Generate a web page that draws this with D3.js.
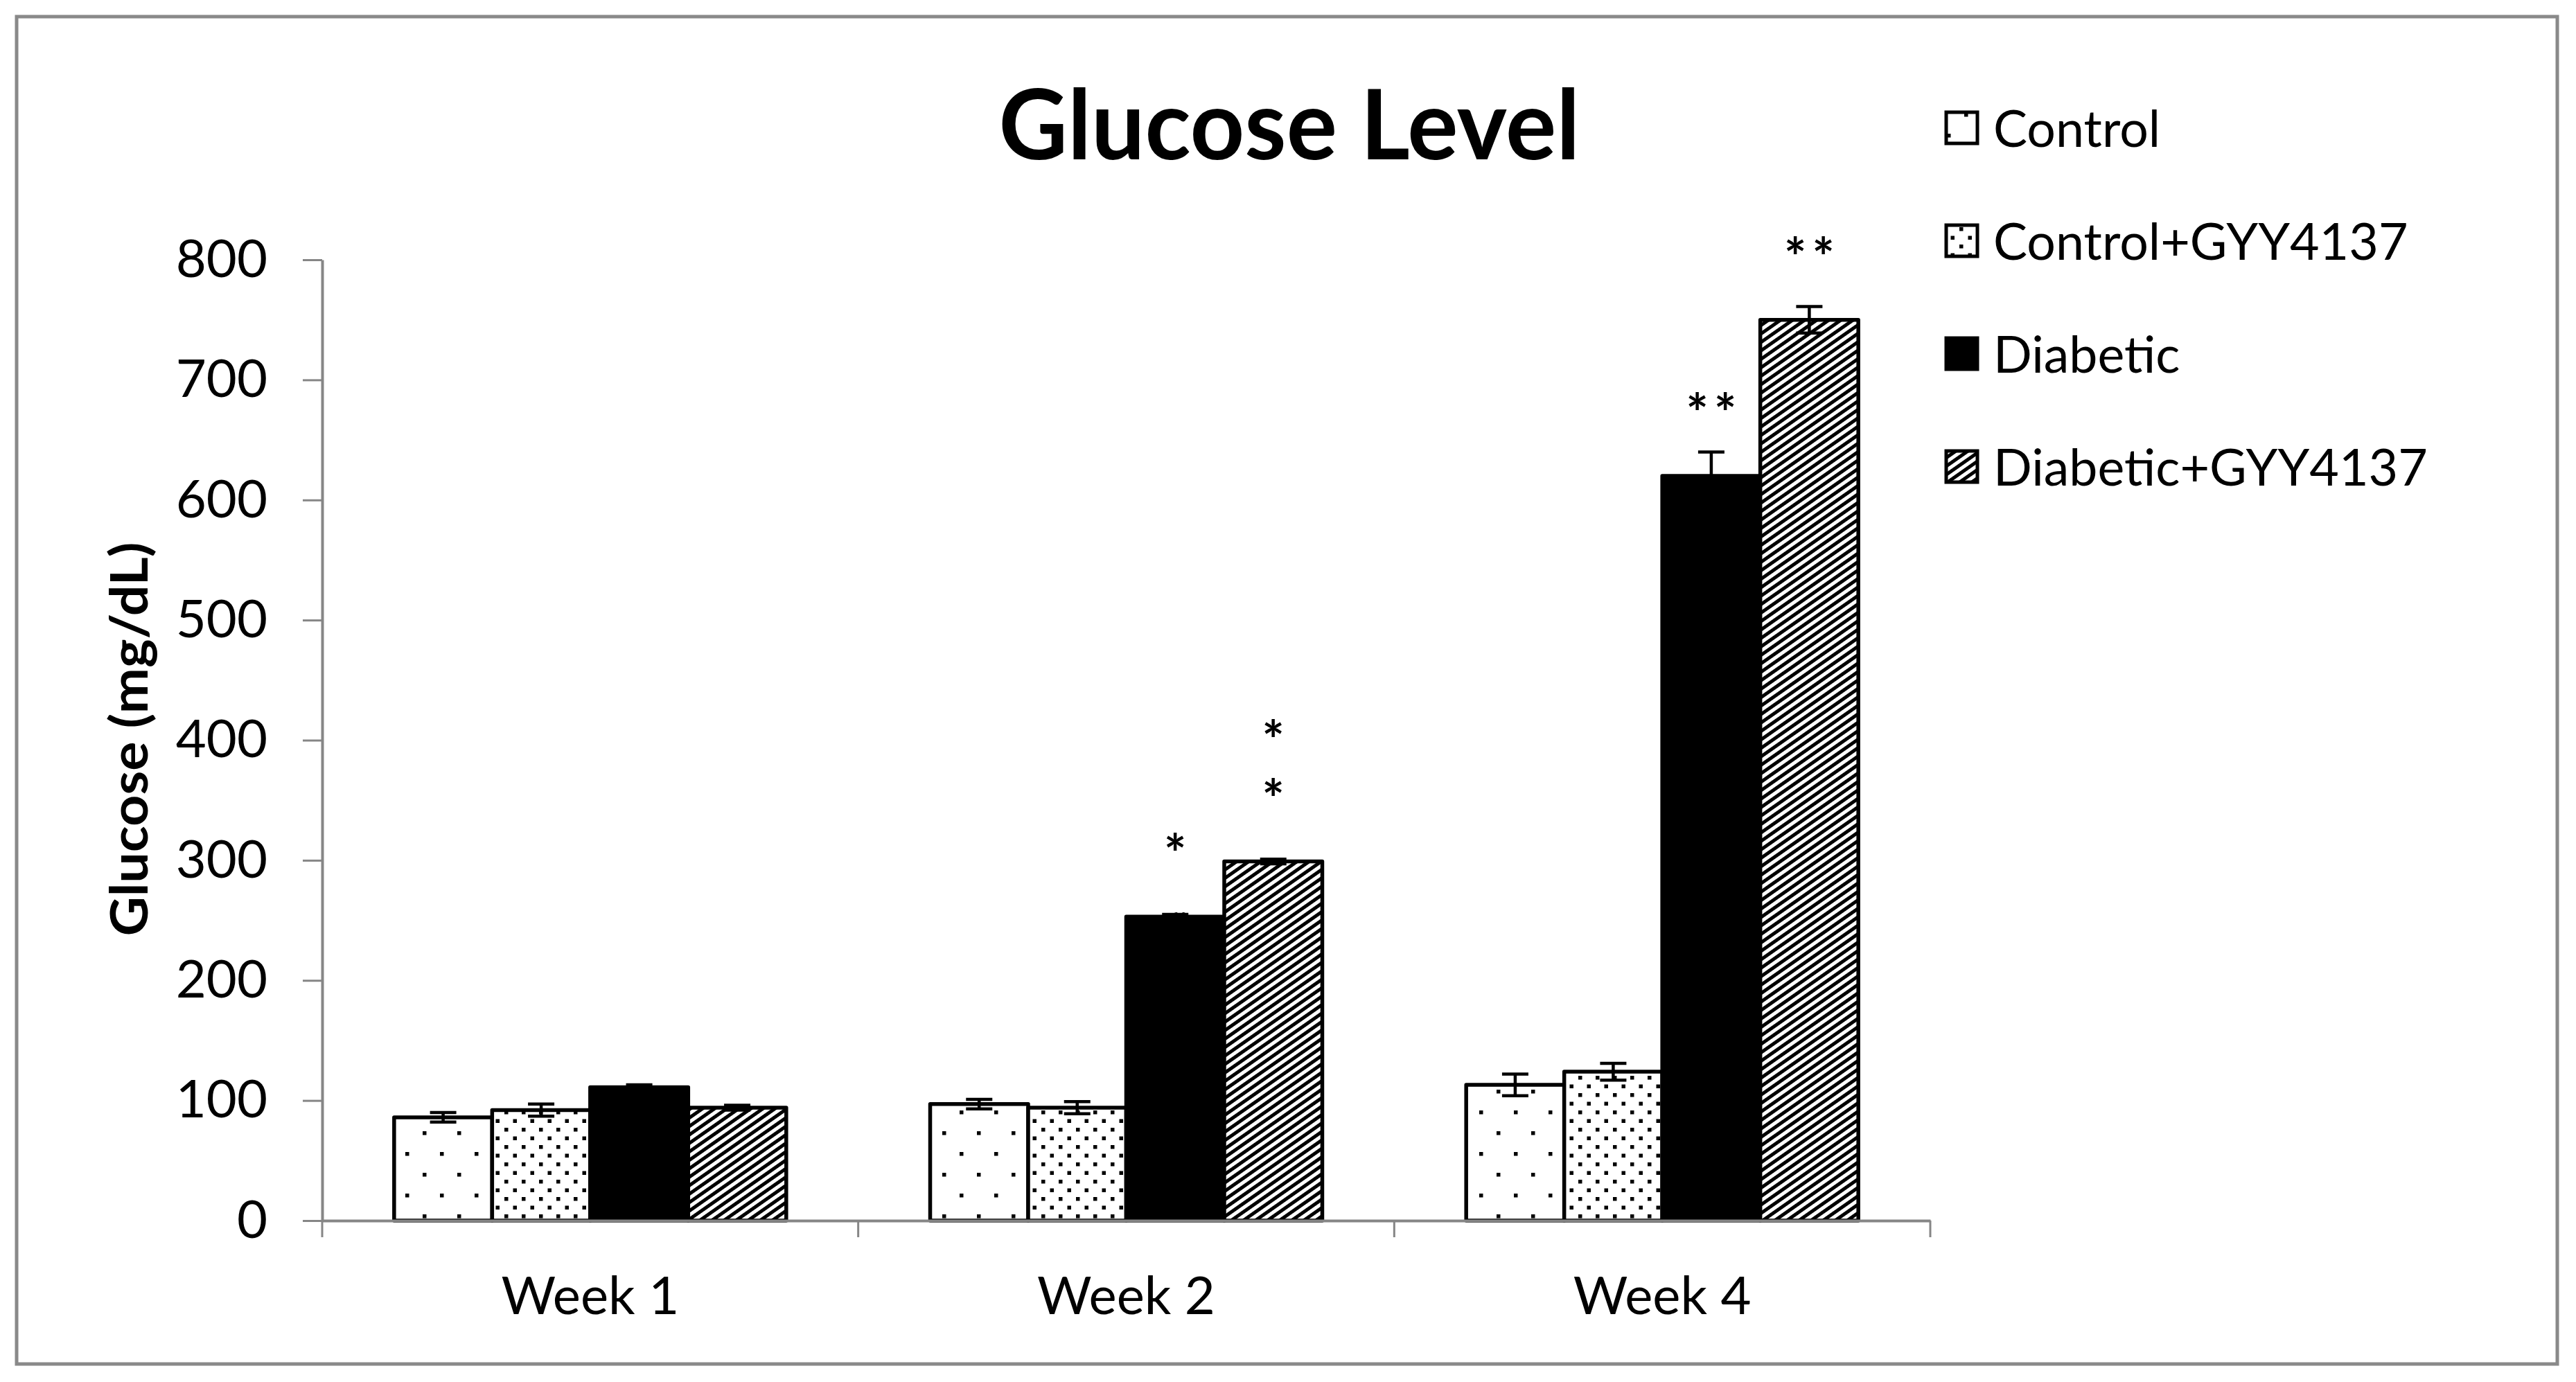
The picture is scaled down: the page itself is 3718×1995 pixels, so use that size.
<!DOCTYPE html>
<html>
<head>
<meta charset="utf-8">
<script src="https://cdn.jsdelivr.net/npm/d3@7"></script>
<style>
  body { margin: 0; background: #fff; }
  text { font-family: Lato, "Open Sans", sans-serif; fill: #000; }
</style>
</head>
<body>
<svg id="chart" width="3718" height="1995"></svg>
<script>
const weeks = ["Week 1", "Week 2", "Week 4"];
const groups = ["Control", "Control+GYY4137", "Diabetic", "Diabetic+GYY4137"];

// glucose mean per week, mg/dL
const controlMean = [86, 97, 113];
const controlGyyMean = [92, 94, 124];
const diabeticMean = [111, 253, 620];
const diabeticGyyMean = [94, 299, 750];

// error bars (+/-)
const controlErr = [4, 4, 9];
const controlGyyErr = [5, 5, 7];
const diabeticErr = [2, 2, 20];
const diabeticGyyErr = [2, 2, 11];

const yTicks = [0, 100, 200, 300, 400, 500, 600, 700, 800];

// significance marks above bars (lines listed top to bottom)
const starMarks = [
  { week: "Week 2", group: "Diabetic", lines: ["*"] },
  { week: "Week 2", group: "Diabetic+GYY4137", lines: ["*", "*"] },
  { week: "Week 4", group: "Diabetic", lines: ["**"] },
  { week: "Week 4", group: "Diabetic+GYY4137", lines: ["**"] },
];
const hashMarks = [{ week: "Week 2", group: "Diabetic", text: "#" }];

const meanByGroup = [controlMean, controlGyyMean, diabeticMean, diabeticGyyMean];
const errByGroup = [controlErr, controlGyyErr, diabeticErr, diabeticGyyErr];
const data = [];
weeks.forEach((w, i) => {
  groups.forEach((g, j) => {
    data.push({ week: w, group: g, value: meanByGroup[j][i], err: errByGroup[j][i] });
  });
});
const lookup = (w, g) => data.find((d) => d.week === w && d.group === g);

const margin = { top: 375, right: 932, bottom: 233, left: 465 };
const width = 3718;
const height = 1995;
const axisGrey = "#868686";

const svg = d3.select("#chart");

// outer frame
svg.append("rect")
  .attr("x", 24).attr("y", 24)
  .attr("width", 3667).attr("height", 1945)
  .attr("fill", "#fff")
  .attr("stroke", "#898989")
  .attr("stroke-width", 5);

// fill patterns
const defs = svg.append("defs");
const sparse = defs.append("pattern")
  .attr("id", "pat-sparse").attr("patternUnits", "userSpaceOnUse")
  .attr("width", 50).attr("height", 60);
sparse.append("rect").attr("width", 50).attr("height", 60).attr("fill", "#fff");
sparse.append("rect").attr("x", 10).attr("y", 13).attr("width", 5.5).attr("height", 5.5);
sparse.append("rect").attr("x", 35).attr("y", 43).attr("width", 5.5).attr("height", 5.5);

const dense = defs.append("pattern")
  .attr("id", "pat-dense").attr("patternUnits", "userSpaceOnUse")
  .attr("width", 25).attr("height", 25);
dense.append("rect").attr("width", 25).attr("height", 25).attr("fill", "#fff");
dense.append("rect").attr("x", 3).attr("y", 3).attr("width", 5.5).attr("height", 5.5);
dense.append("rect").attr("x", 15.5).attr("y", 15.5).attr("width", 5.5).attr("height", 5.5);

const stripes = defs.append("pattern")
  .attr("id", "pat-stripes").attr("patternUnits", "userSpaceOnUse")
  .attr("width", 10).attr("height", 10)
  .attr("patternTransform", "rotate(55)");
stripes.append("rect").attr("width", 10).attr("height", 10).attr("fill", "#fff");
stripes.append("rect").attr("width", 5).attr("height", 10).attr("fill", "#000");

const fills = {
  "Control": "url(#pat-sparse)",
  "Control+GYY4137": "url(#pat-dense)",
  "Diabetic": "#000",
  "Diabetic+GYY4137": "url(#pat-stripes)",
};

// scales
const x0 = d3.scaleBand()
  .domain(weeks)
  .range([margin.left, width - margin.right])
  .paddingInner(0).paddingOuter(0);

const x1 = d3.scaleBand()
  .domain(groups)
  .range([0, x0.bandwidth()])
  .paddingInner(0).paddingOuter(0.734);

const y = d3.scaleLinear()
  .domain([0, 800])
  .range([height - margin.bottom, margin.top]);

// Y axis
const yAxis = svg.append("g")
  .attr("transform", `translate(${margin.left},0)`)
  .call(d3.axisLeft(y).tickValues(yTicks).tickSize(28).tickSizeOuter(0).tickPadding(51));
yAxis.select(".domain").attr("stroke", axisGrey).attr("stroke-width", 4);
yAxis.selectAll(".tick line").attr("stroke", axisGrey).attr("stroke-width", 3);
yAxis.selectAll(".tick text")
  .attr("font-family", "Lato, sans-serif")
  .attr("font-size", 76)
  .attr("fill", "#000");

// bars
svg.append("g")
  .selectAll("rect")
  .data(data)
  .join("rect")
  .attr("x", (d) => x0(d.week) + x1(d.group))
  .attr("y", (d) => y(d.value))
  .attr("width", x1.bandwidth())
  .attr("height", (d) => y(0) - y(d.value))
  .attr("fill", (d) => fills[d.group])
  .attr("stroke", "#000")
  .attr("stroke-width", 5.5)
  .attr("stroke-linejoin", "round");

// error bars
const capHalf = 19;
const errG = svg.append("g").attr("stroke", "#000").attr("stroke-width", 4.5);
data.forEach((d) => {
  const cx = x0(d.week) + x1(d.group) + x1.bandwidth() / 2;
  errG.append("line")
    .attr("x1", cx).attr("x2", cx)
    .attr("y1", y(d.value - d.err)).attr("y2", y(d.value + d.err));
  [d.value - d.err, d.value + d.err].forEach((v) => {
    errG.append("line")
      .attr("x1", cx - capHalf).attr("x2", cx + capHalf)
      .attr("y1", y(v)).attr("y2", y(v));
  });
});

// X axis
const xAxis = svg.append("g")
  .attr("transform", `translate(0,${y(0)})`)
  .call(d3.axisBottom(x0).tickSize(0).tickPadding(81));
xAxis.select(".domain").attr("stroke", axisGrey).attr("stroke-width", 4);
xAxis.selectAll(".tick text")
  .attr("font-family", "Lato, sans-serif")
  .attr("font-size", 76)
  .attr("fill", "#000");

// category boundary ticks
const bounds = weeks.map((w) => x0(w)).concat([x0(weeks[weeks.length - 1]) + x0.bandwidth()]);
svg.append("g")
  .selectAll("line")
  .data(bounds)
  .join("line")
  .attr("x1", (d) => d).attr("x2", (d) => d)
  .attr("y1", y(0)).attr("y2", y(0) + 24)
  .attr("stroke", axisGrey)
  .attr("stroke-width", 3);

// significance stars, one text per mark; stacked lines are tspans
const starFs = 76;
const rowGap = 85;
const stars = svg.append("g")
  .selectAll("text")
  .data(starMarks)
  .join("text")
  .attr("text-anchor", "middle")
  .attr("font-family", "'Liberation Serif', 'Times New Roman', serif")
  .attr("font-weight", "bold")
  .attr("font-size", starFs)
  .attr("letter-spacing", 8);
stars.each(function (d) {
  const b = lookup(d.week, d.group);
  const cx = x0(d.week) + x1(d.group) + x1.bandwidth() / 2;
  const bottomBase = y(b.value) - 100 + 37;
  const topBase = bottomBase - (d.lines.length - 1) * rowGap;
  d3.select(this)
    .selectAll("tspan")
    .data(d.lines)
    .join("tspan")
    .attr("x", cx + 4)
    .attr("y", (l, i) => topBase + i * rowGap)
    .text((l) => l);
});

svg.append("g")
  .selectAll("text")
  .data(hashMarks)
  .join("text")
  .attr("x", (d) => x0(d.week) + x1(d.group) + x1.bandwidth() / 2)
  .attr("y", (d) => y(lookup(d.week, d.group).value) + 36)
  .attr("text-anchor", "middle")
  .attr("font-style", "italic")
  .attr("font-size", 58)
  .text((d) => d.text);

// Title
svg.append("text")
  .attr("x", 1861)
  .attr("y", 230)
  .attr("text-anchor", "middle")
  .attr("font-weight", "bold")
  .attr("font-size", 140)
  .attr("textLength", 839)
  .attr("lengthAdjust", "spacingAndGlyphs")
  .text("Glucose Level");

// Y axis label
svg.append("text")
  .attr("transform", `translate(213,1067) rotate(-90)`)
  .attr("text-anchor", "middle")
  .attr("font-weight", "bold")
  .attr("font-size", 74)
  .attr("textLength", 569)
  .attr("lengthAdjust", "spacingAndGlyphs")
  .text("Glucose (mg/dL)");

// Legend
const legend = svg.append("g");
groups.forEach((g, i) => {
  const cy = 185 + i * 163;
  legend.append("rect")
    .attr("x", 2809).attr("y", cy - 23)
    .attr("width", 45).attr("height", 45)
    .attr("fill", fills[g])
    .attr("stroke", "#000")
    .attr("stroke-width", 5);
  legend.append("text")
    .attr("x", 2877)
    .attr("y", cy + 27)
    .attr("font-size", 73.5)
    .text(g);
});
</script>
</body>
</html>
